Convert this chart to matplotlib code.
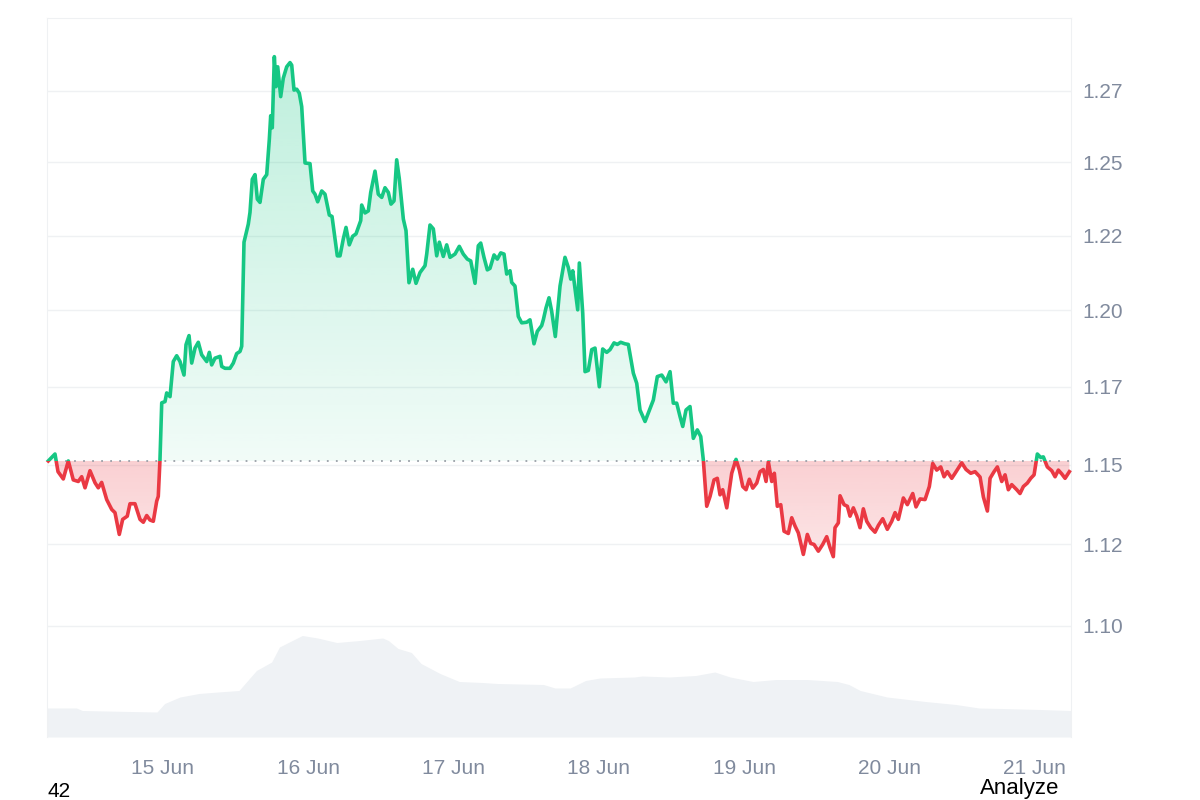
import numpy as np
import matplotlib
matplotlib.use("Agg")
import matplotlib.pyplot as plt
from matplotlib.path import Path
from matplotlib.patches import Rectangle
from matplotlib.colors import to_rgb
from matplotlib.ticker import NullLocator

# hours since 14 Jun 00:00
price_hours = [
    5.05, 6.16, 6.66, 7.53, 8.36, 9.18, 10.01, 10.57, 11.12, 11.94,
    12.77, 13.31, 13.87, 14.70, 15.53, 16.07, 16.78, 17.34, 18.10, 18.55,
    19.37, 20.20, 20.75, 21.31, 21.85, 22.40, 22.96, 23.22, 23.50, 23.79,
    24.33, 24.61, 25.16, 25.70, 26.26, 26.81, 27.47, 27.80, 28.30, 28.74,
    29.29, 29.83, 30.39, 31.22, 31.65, 32.04, 32.59, 33.42, 33.70, 34.24,
    35.07, 35.61, 36.17, 36.72, 37.00, 37.38, 38.09, 38.37, 38.75, 39.20,
    39.58, 40.02, 40.57, 41.13, 41.56, 41.79, 42.05, 42.39, 42.67, 42.95,
    43.44, 43.87, 44.43, 44.98, 45.26, 45.64, 46.09, 46.51, 46.91, 47.46,
    48.28, 48.73, 49.11, 49.55, 50.22, 50.76, 51.47, 51.92, 52.79, 53.24,
    53.78, 54.23, 54.77, 55.33, 55.88, 56.66, 56.82, 57.37, 57.91, 58.31,
    59.02, 59.56, 60.13, 60.67, 61.22, 61.66, 62.16, 62.60, 63.03, 63.70,
    64.14, 64.63, 65.25, 65.79, 66.45, 67.28, 67.56, 68.10, 68.65, 69.21,
    69.64, 70.30, 70.86, 71.41, 72.23, 72.94, 73.60, 74.27, 74.83, 75.54,
    76.08, 76.48, 77.02, 77.57, 78.01, 78.68, 79.22, 79.78, 80.33, 80.77,
    81.32, 81.60, 82.14, 82.69, 83.25, 84.08, 84.62, 85.28, 85.83, 86.55,
    86.82, 87.26, 87.76, 88.20, 88.80, 89.58, 90.40, 90.95, 91.35, 91.68,
    92.50, 92.77, 93.33, 93.71, 94.25, 94.82, 95.36, 96.07, 96.63, 97.29,
    97.84, 98.50, 99.04, 99.60, 100.31, 100.86, 101.69, 102.25, 102.79, 103.62,
    104.16, 104.99, 105.65, 106.38, 107.09, 107.75, 108.29, 108.85, 109.40, 109.85,
    110.39, 111.05, 111.60, 112.26, 112.82, 113.25, 113.81, 114.36, 115.02, 115.56,
    116.01, 116.45, 117.12, 117.94, 118.65, 119.20, 119.76, 120.31, 120.85, 121.41,
    122.07, 122.62, 123.16, 123.61, 123.99, 124.55, 124.98, 125.47, 126.04, 126.58,
    127.29, 127.85, 128.40, 128.94, 129.77, 130.43, 130.99, 131.53, 132.25, 132.97,
    133.63, 134.18, 134.72, 135.00, 135.55, 135.83, 136.49, 137.04, 137.48, 138.03,
    138.59, 139.13, 139.68, 140.24, 140.90, 141.61, 142.16, 142.88, 143.64, 144.37,
    144.92, 145.46, 146.29, 146.95, 147.84, 148.38, 149.05, 149.87, 150.58, 151.14,
    151.80, 152.46, 153.01, 153.55, 154.28, 154.83, 155.93, 156.64, 157.42, 158.13,
    158.96, 159.51, 160.17, 160.61, 161.27, 161.82, 162.54, 163.09, 163.63, 164.19,
    165.02, 165.56, 166.11, 166.77, 167.33, 167.88, 168.42, 168.98, 169.41, 170.07,
    170.80, 171.35, 171.89, 172.45, 173.00, 173.71,
]
prices = [
    1.1512, 1.1534, 1.1478, 1.1455, 1.1512, 1.1452, 1.1447, 1.1462, 1.1427, 1.1481,
    1.1443, 1.1427, 1.1444, 1.1390, 1.1359, 1.1349, 1.1281, 1.1328, 1.1338, 1.1377,
    1.1377, 1.1328, 1.1319, 1.1340, 1.1326, 1.1322, 1.1385, 1.1400, 1.1515, 1.1698,
    1.1702, 1.1730, 1.1718, 1.1832, 1.1851, 1.1832, 1.1788, 1.1887, 1.1917, 1.1827,
    1.1876, 1.1895, 1.1854, 1.1832, 1.1862, 1.1821, 1.1843, 1.1849, 1.1816, 1.1810,
    1.1810, 1.1827, 1.1858, 1.1865, 1.1882, 1.2228, 1.2289, 1.2329, 1.2442, 1.2458,
    1.2374, 1.2363, 1.2442, 1.2458, 1.2579, 1.2662, 1.2620, 1.2870, 1.2764, 1.2834,
    1.2729, 1.2794, 1.2834, 1.2849, 1.2840, 1.2752, 1.2755, 1.2741, 1.2694, 1.2498,
    1.2496, 1.2402, 1.2391, 1.2365, 1.2402, 1.2391, 1.2320, 1.2315, 1.2182, 1.2182,
    1.2239, 1.2278, 1.2219, 1.2248, 1.2256, 1.2301, 1.2354, 1.2327, 1.2334, 1.2397,
    1.2470, 1.2391, 1.2380, 1.2413, 1.2397, 1.2357, 1.2368, 1.2509, 1.2444, 1.2306,
    1.2267, 1.2092, 1.2137, 1.2090, 1.2126, 1.2149, 1.2188, 1.2286, 1.2273, 1.2182,
    1.2228, 1.2180, 1.2219, 1.2177, 1.2188, 1.2214, 1.2188, 1.2171, 1.2165, 1.2090,
    1.2216, 1.2225, 1.2177, 1.2135, 1.2140, 1.2185, 1.2171, 1.2192, 1.2188, 1.2121,
    1.2132, 1.2093, 1.2081, 1.1980, 1.1959, 1.1961, 1.1969, 1.1890, 1.1931, 1.1950,
    1.1969, 1.2008, 1.2042, 1.1997, 1.1914, 1.2081, 1.2177, 1.2143, 1.2104, 1.2132,
    1.2002, 1.2158, 1.1991, 1.1799, 1.1803, 1.1871, 1.1876, 1.1750, 1.1873, 1.1862,
    1.1871, 1.1893, 1.1888, 1.1895, 1.1890, 1.1888, 1.1794, 1.1761, 1.1675, 1.1638,
    1.1665, 1.1707, 1.1783, 1.1788, 1.1766, 1.1799, 1.1697, 1.1697, 1.1654, 1.1622,
    1.1675, 1.1686, 1.1584, 1.1611, 1.1590, 1.1515, 1.1369, 1.1400, 1.1452, 1.1457,
    1.1405, 1.1421, 1.1364, 1.1473, 1.1517, 1.1483, 1.1431, 1.1421, 1.1454, 1.1426,
    1.1442, 1.1478, 1.1485, 1.1447, 1.1509, 1.1447, 1.1473, 1.1369, 1.1374, 1.1291,
    1.1284, 1.1333, 1.1307, 1.1286, 1.1219, 1.1281, 1.1253, 1.1250, 1.1229, 1.1250,
    1.1274, 1.1240, 1.1212, 1.1302, 1.1317, 1.1402, 1.1374, 1.1369, 1.1338, 1.1364,
    1.1338, 1.1302, 1.1361, 1.1322, 1.1302, 1.1288, 1.1309, 1.1330, 1.1297, 1.1322,
    1.1349, 1.1328, 1.1395, 1.1374, 1.1409, 1.1367, 1.1392, 1.1390, 1.1431, 1.1504,
    1.1483, 1.1493, 1.1462, 1.1478, 1.1457, 1.1473, 1.1506, 1.1485, 1.1473, 1.1478,
    1.1461, 1.1398, 1.1354, 1.1457, 1.1478, 1.1493, 1.1447, 1.1468, 1.1421, 1.1437,
    1.1421, 1.1409, 1.1431, 1.1442, 1.1457, 1.1468, 1.1534, 1.1523, 1.1525, 1.1493,
    1.1481, 1.1462, 1.1483, 1.1471, 1.1457, 1.1478,
]

vol_hours = [
    4.84, 9.71, 10.67, 18.55, 23.01, 24.27, 26.81, 29.95, 33.08, 36.55,
    39.43, 41.95, 43.23, 47.01, 49.54, 52.71, 56.49, 60.29, 61.23, 62.82,
    65.03, 66.62, 69.76, 72.93, 76.73, 79.25, 86.84, 88.75, 91.26, 93.79,
    96.18, 101.87, 103.12, 107.58, 111.99, 115.15, 117.67, 121.46, 125.25, 130.33,
    135.38, 137.28, 139.16, 143.59, 149.92, 154.97, 158.77, 162.55, 168.86, 173.94,
]
volumes = [
    58, 58, 53, 51, 50, 67, 80, 87, 90, 93,
    133, 150, 180, 203, 198, 189, 193, 198, 193, 177,
    169, 147, 127, 111, 109, 107, 105, 98, 98, 113,
    118, 120, 122, 120, 123, 130, 120, 111, 115, 115,
    111, 105, 93, 80, 71, 65, 58, 57, 55, 53,
]

day_ticks = [24, 48, 72, 96, 120, 144, 168]
day_labels = ["15 Jun", "16 Jun", "17 Jun", "18 Jun", "19 Jun", "20 Jun", "21 Jun"]
price_ticks = [1.1, 1.125, 1.15, 1.175, 1.2, 1.225, 1.25, 1.275]
price_labels = ["1.10", "1.12", "1.15", "1.17", "1.20", "1.22", "1.25", "1.27"]

GREEN = "#16c784"
RED = "#ea3943"
TEXT = "#808a9d"
FRAME = "#eff1f3"

plt.rcParams["font.family"] = ["Liberation Sans", "DejaVu Sans"]

x = np.array(price_hours)
y = np.array(prices)
base = prices[0]
xlim = (4.84, 173.98)
ylim = (1.0668, 1.3008)

fig = plt.figure(figsize=(12, 8), dpi=100)
pos = [47 / 1200, 1 - 737 / 800, 1024 / 1200, 719 / 800]

# volume sits behind the price panel
vax = fig.add_axes(pos, zorder=0)
vax.fill_between(vol_hours, volumes, 0, color="#eff2f5", lw=0)
vax.set_xlim(xlim)
vax.set_ylim(0, 1438)
vax.axis("off")

ax = fig.add_axes(pos, zorder=1)
ax.patch.set_alpha(0)
ax.set_yscale("log")
ax.set_xlim(xlim)
ax.set_ylim(ylim)


def axes_frac(v):
    return ax.transAxes.inverted().transform(ax.transData.transform((xlim[0], v)))[1]


def gradient_fill(mask, color, lo, hi, a_lo, a_hi):
    fills = ax.fill_between(x, y, base, where=mask, interpolate=True,
                            facecolor="none", edgecolor="none")
    clip = Path.make_compound_path(*fills.get_paths())
    grad = np.zeros((256, 1, 4))
    grad[..., :3] = to_rgb(color)
    grad[:, 0, 3] = np.linspace(a_lo, a_hi, 256)
    im = ax.imshow(grad, extent=(0, 1, axes_frac(lo), axes_frac(hi)),
                   transform=ax.transAxes, aspect="auto", origin="lower",
                   interpolation="bilinear", zorder=1)
    im.set_clip_path(clip, transform=ax.transData)


gradient_fill(y >= base, GREEN, base, 1.287, 0.06, 0.28)
gradient_fill(y <= base, RED, 1.118, base, 0.12, 0.24)

ax.axhline(base, color="#9aa0a8", lw=1.3, ls=(0, (1, 4)), zorder=2)

# one line, drawn twice and clipped above / below the opening price
for color, lo, hi in [(GREEN, base, ylim[1] * 1.1), (RED, ylim[0] * 0.9, base)]:
    line, = ax.plot(x, y, color=color, lw=2.6, solid_joinstyle="round", zorder=3)
    rect = Rectangle((xlim[0] - 5, lo), xlim[1] - xlim[0] + 10, hi - lo,
                     transform=ax.transData)
    line.set_clip_path(rect)

ax.set_xlim(xlim)
ax.set_ylim(ylim)

ax.yaxis.tick_right()
ax.set_yticks(price_ticks, price_labels)
ax.yaxis.set_minor_locator(NullLocator())
ax.set_xticks(day_ticks, day_labels)
ax.tick_params(axis="y", length=0, pad=8, labelsize=15, labelcolor=TEXT)
ax.tick_params(axis="x", length=0, pad=16, labelsize=15, labelcolor=TEXT)
ax.grid(axis="y", color="#eff1f3", lw=1)
ax.set_axisbelow(True)
for side in ["top", "left", "right"]:
    ax.spines[side].set_color(FRAME)
ax.spines["bottom"].set_visible(False)

fig.text(47 / 1200, 1 - 797 / 800, "42", fontsize=15, color="black",
         va="baseline", ha="left")
fig.text(980 / 1200, 1 - 794 / 800, "Analyze", fontsize=16, color="black",
         va="baseline", ha="left")

fig.savefig("out.png", dpi=100)
